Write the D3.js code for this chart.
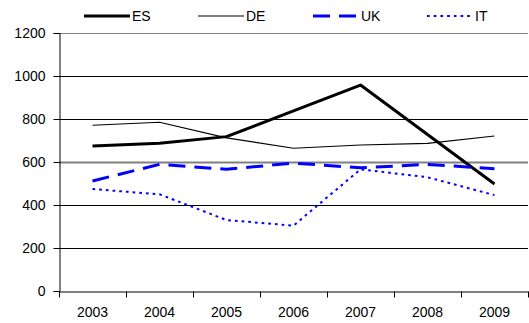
<!DOCTYPE html>
<html>
<head>
<meta charset="utf-8">
<script src="https://cdn.jsdelivr.net/npm/d3@7"></script>
<style>
  body { margin: 0; background: #fff; }
  svg { display: block; }
  text { font-family: "Liberation Sans", Arial, sans-serif; font-size: 14px; fill: #000; }
</style>
</head>
<body>
<svg id="chart" width="529" height="323"></svg>
<script>
// data
var years = ["2003", "2004", "2005", "2006", "2007", "2008", "2009"];
var ES = [674, 687, 718, 838, 958, 728, 498];
var DE = [771, 785, 712, 664, 679, 687, 721];
var UK = [512, 589, 566, 595, 573, 589, 569];
var IT = [474, 450, 330, 304, 566, 529, 446];
var yTicks = [0, 200, 400, 600, 800, 1000, 1200];

var series = [
    { name: "ES", values: ES, color: "#000", width: 3, dash: null },
    { name: "DE", values: DE, color: "#000", width: 1.2, dash: null },
    { name: "UK", values: UK, color: "#0000ff", width: 3, dash: "17,9" },
    { name: "IT", values: IT, color: "#0000ff", width: 2, dash: "2.7,4" }
];

var margin = { top: 33, right: 1, bottom: 32, left: 59 };
var svg = d3.select("#chart");
var width = +svg.attr("width") - margin.left - margin.right,
    height = +svg.attr("height") - margin.top - margin.bottom;

var xScale = d3.scaleBand().domain(years).range([0, width]);
var yScale = d3.scaleLinear().domain([0, 1200]).range([height, 0]);

var g = svg.append("g")
    .attr("transform", "translate(" + margin.left + "," + margin.top + ")");

// gridlines
g.selectAll("line.grid")
    .data(yTicks.filter(function (d) { return d > 0; }))
    .enter().append("line")
    .attr("class", "grid")
    .attr("x1", 0).attr("x2", width)
    .attr("y1", function (d) { return Math.round(yScale(d)) + 0.5; })
    .attr("y2", function (d) { return Math.round(yScale(d)) + 0.5; })
    .attr("stroke", function (d) { return (d == 600 || d == 1200) ? "#808080" : "#000"; })
    .attr("stroke-width", function (d) { return d == 600 ? 2 : 1; });

// axes
var yAxis = d3.axisLeft(yScale).tickValues(yTicks).tickFormat(d3.format("d")).tickSize(6).tickPadding(8);
var xAxis = d3.axisBottom(xScale).tickSize(0).tickPadding(16);

var ya = g.append("g").attr("transform", "translate(0.5,0)").call(yAxis);
ya.select(".domain").attr("stroke", "#000");
ya.selectAll("text").style("font-size", "14px").style("font-family", "Liberation Sans, Arial, sans-serif");

var xa = g.append("g").attr("transform", "translate(0," + (height + 0.5) + ")").call(xAxis);
xa.select(".domain").attr("stroke", "#000");
xa.selectAll("text").style("font-size", "14px").style("font-family", "Liberation Sans, Arial, sans-serif");

// x tick marks at category boundaries
xa.selectAll("line.bound")
    .data(years.concat(["end"]))
    .enter().append("line")
    .attr("class", "bound")
    .attr("x1", function (d, i) { return Math.round(i * xScale.step()) + 0.5; })
    .attr("x2", function (d, i) { return Math.round(i * xScale.step()) + 0.5; })
    .attr("y1", 0).attr("y2", 6)
    .attr("stroke", "#000");

// lines
var line = d3.line()
    .x(function (d, i) { return xScale(years[i]) + xScale.bandwidth() / 2; })
    .y(function (d) { return yScale(d); });

g.selectAll("path.series")
    .data(series)
    .enter().append("path")
    .attr("class", "series")
    .attr("d", function (d) { return line(d.values); })
    .attr("fill", "none")
    .attr("stroke", function (d) { return d.color; })
    .attr("stroke-width", function (d) { return d.width; })
    .attr("stroke-dasharray", function (d) { return d.dash; })
    .attr("stroke-linejoin", "round");

// legend
var legendX = [84, 198, 313, 427];
var legend = svg.append("g").attr("class", "legend");
var item = legend.selectAll("g")
    .data(series)
    .enter().append("g")
    .attr("transform", function (d, i) { return "translate(" + legendX[i] + ",16)"; });

item.append("line")
    .attr("x1", 0).attr("x2", 46)
    .attr("y1", 0).attr("y2", 0)
    .attr("stroke", function (d) { return d.color; })
    .attr("stroke-width", function (d) { return d.width; })
    .attr("stroke-dasharray", function (d) { return d.dash; });

item.append("text")
    .attr("x", 48)
    .attr("y", 5)
    .text(function (d) { return d.name; });
</script>
</body>
</html>
